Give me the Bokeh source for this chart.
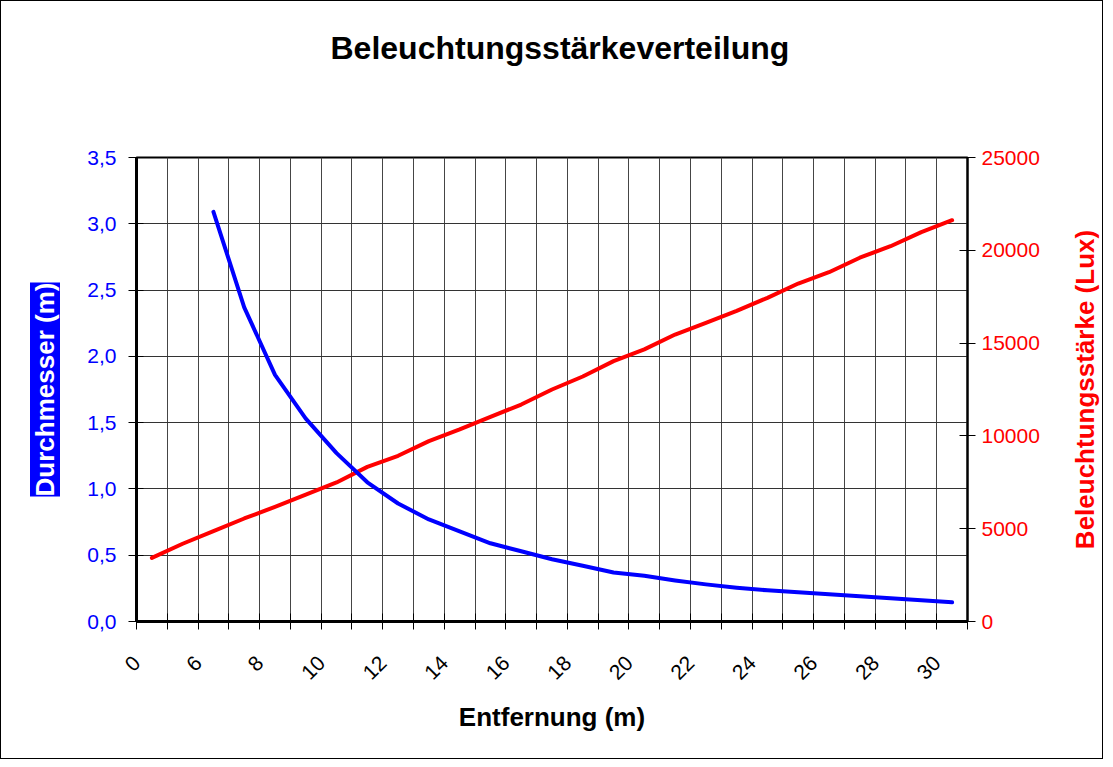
import math
from bokeh.plotting import figure
from bokeh.models import (LinearAxis, Range1d, FixedTicker, Title, Label, ColumnDataSource)
from bokeh.embed import file_html
from bokeh.resources import INLINE

# ---------------- data ----------------
distances = ["0", "5", "6", "7", "8", "9", "10", "11", "12", "13", "14", "15", "16", "17",
             "18", "19", "20", "21", "22", "23", "24", "25", "26", "27", "28", "29", "30"]
lux = [3430, 4190, 4870, 5550, 6180, 6840, 7490, 8330, 8930, 9720, 10350, 11030, 11690,
       12500, 13200, 14030, 14660, 15460, 16090, 16740, 17440, 18210, 18820, 19600, 20220,
       20980, 21620]
diameter_start = 2  # first category that has a diameter value
diameter = [3.09, 2.37, 1.86, 1.53, 1.27, 1.05, 0.89, 0.77, 0.68, 0.59, 0.53, 0.47, 0.42,
            0.37, 0.345, 0.31, 0.28, 0.255, 0.235, 0.22, 0.205, 0.19, 0.175, 0.16, 0.145]
left_ticks = [0.0, 0.5, 1.0, 1.5, 2.0, 2.5, 3.0, 3.5]
left_tick_labels = ["0,0", "0,5", "1,0", "1,5", "2,0", "2,5", "3,0", "3,5"]
right_ticks = [0, 5000, 10000, 15000, 20000, 25000]

FONT = "Liberation Sans"
n = len(distances)
idx = list(range(n))
LABEL_SHIFT = -0.49  # rotated labels sit left of their category, as in the original

p = figure(width=1103, height=759, output_backend="svg", toolbar_location=None,
           x_range=Range1d(-0.5, n - 0.5), y_range=Range1d(0, 3.5),
           min_border_left=135, min_border_right=137, min_border_top=156,
           min_border_bottom=139, background_fill_color="white",
           border_fill_color="white")
p.styles = {"border": "1px solid black"}
p.outline_line_color = "black"
p.outline_line_width = 2
p.title.visible = False

p.extra_y_ranges = {"lux": Range1d(0, 25000)}

# title (a blank spacer keeps it high above the plot area)
p.add_layout(Title(text=" ", text_font_size="10px", standoff=74), "above")
p.add_layout(Title(text="Beleuchtungsstärkeverteilung", text_font=FONT,
                   text_font_size="32px", text_font_style="bold", text_color="black",
                   align="left", offset=194, standoff=10), "above")

# x axis: labels on every other category, ticks/grid at category boundaries
boundaries = [i - 0.5 for i in range(n + 1)]
label_pos = [i + LABEL_SHIFT for i in idx[::2]]
xax = p.xaxis[0]
xax.ticker = FixedTicker(ticks=label_pos, minor_ticks=boundaries)
xax.major_label_overrides = {pos: distances[i] for pos, i in zip(label_pos, idx[::2])}
xax.major_label_orientation = math.pi / 4
xax.major_tick_in = 0
xax.major_tick_out = 0
xax.minor_tick_in = 8
xax.minor_tick_out = 8
xax.minor_tick_line_color = "black"
xax.axis_line_width = 3
xax.axis_line_color = "black"
xax.major_label_text_font = FONT
xax.major_label_text_font_size = "21px"
xax.major_label_text_color = "black"
xax.major_label_standoff = 30
xax.axis_label = "Entfernung (m)"
xax.axis_label_text_font = FONT
xax.axis_label_text_font_size = "26px"
xax.axis_label_text_font_style = "bold"
xax.axis_label_text_color = "black"
xax.axis_label_standoff = 13

p.xgrid.ticker = FixedTicker(ticks=boundaries)
p.xgrid.grid_line_color = "#454545"
p.xgrid.grid_line_width = 1

# left axis
yax = p.yaxis[0]
yax.ticker = FixedTicker(ticks=left_ticks)
yax.major_label_overrides = {t: s for t, s in zip(left_ticks, left_tick_labels)}
yax.major_label_text_font = FONT
yax.major_label_text_font_size = "21px"
yax.major_label_text_color = "#0000FF"
yax.major_label_standoff = 12
yax.major_tick_in = 7
yax.major_tick_out = 8
yax.minor_tick_line_color = None
yax.axis_line_width = 3
yax.axis_line_color = "black"
p.ygrid.ticker = FixedTicker(ticks=left_ticks)
p.ygrid.grid_line_color = "#333333"
p.ygrid.grid_line_width = 1

p.add_layout(Title(text="Durchmesser (m)", text_font=FONT, text_font_size="26px",
                   text_font_style="bold", text_color="white",
                   background_fill_color="#0000FF", align="center", standoff=49,
                   padding=0), "left")

# right axis
rax = LinearAxis(y_range_name="lux", ticker=FixedTicker(ticks=right_ticks))
rax.major_label_text_font = FONT
rax.major_label_text_font_size = "21px"
rax.major_label_text_color = "#FF0000"
rax.major_label_standoff = 6
rax.major_tick_in = 8
rax.major_tick_out = 8
rax.minor_tick_line_color = None
rax.axis_line_width = 2
rax.axis_line_color = "black"
p.add_layout(rax, "right")

p.add_layout(Label(x=42, y=232, x_units="screen", y_units="screen",
                   text="Beleuchtungsstärke (Lux)", angle=math.pi / 2,
                   text_align="center", text_baseline="middle", text_font=FONT,
                   text_font_size="26px", text_font_style="bold",
                   text_color="#FF0000"), "right")

# series
red_src = ColumnDataSource(dict(x=idx, y=lux))
blue_src = ColumnDataSource(dict(x=idx[diameter_start:], y=diameter))
p.line("x", "y", source=red_src, y_range_name="lux", line_color="#FF0000",
       line_width=4, line_join="round", line_cap="round")
p.line("x", "y", source=blue_src, line_color="#0000FF", line_width=4,
       line_join="round", line_cap="round")

open("out.html", "w").write(file_html(p, INLINE))
